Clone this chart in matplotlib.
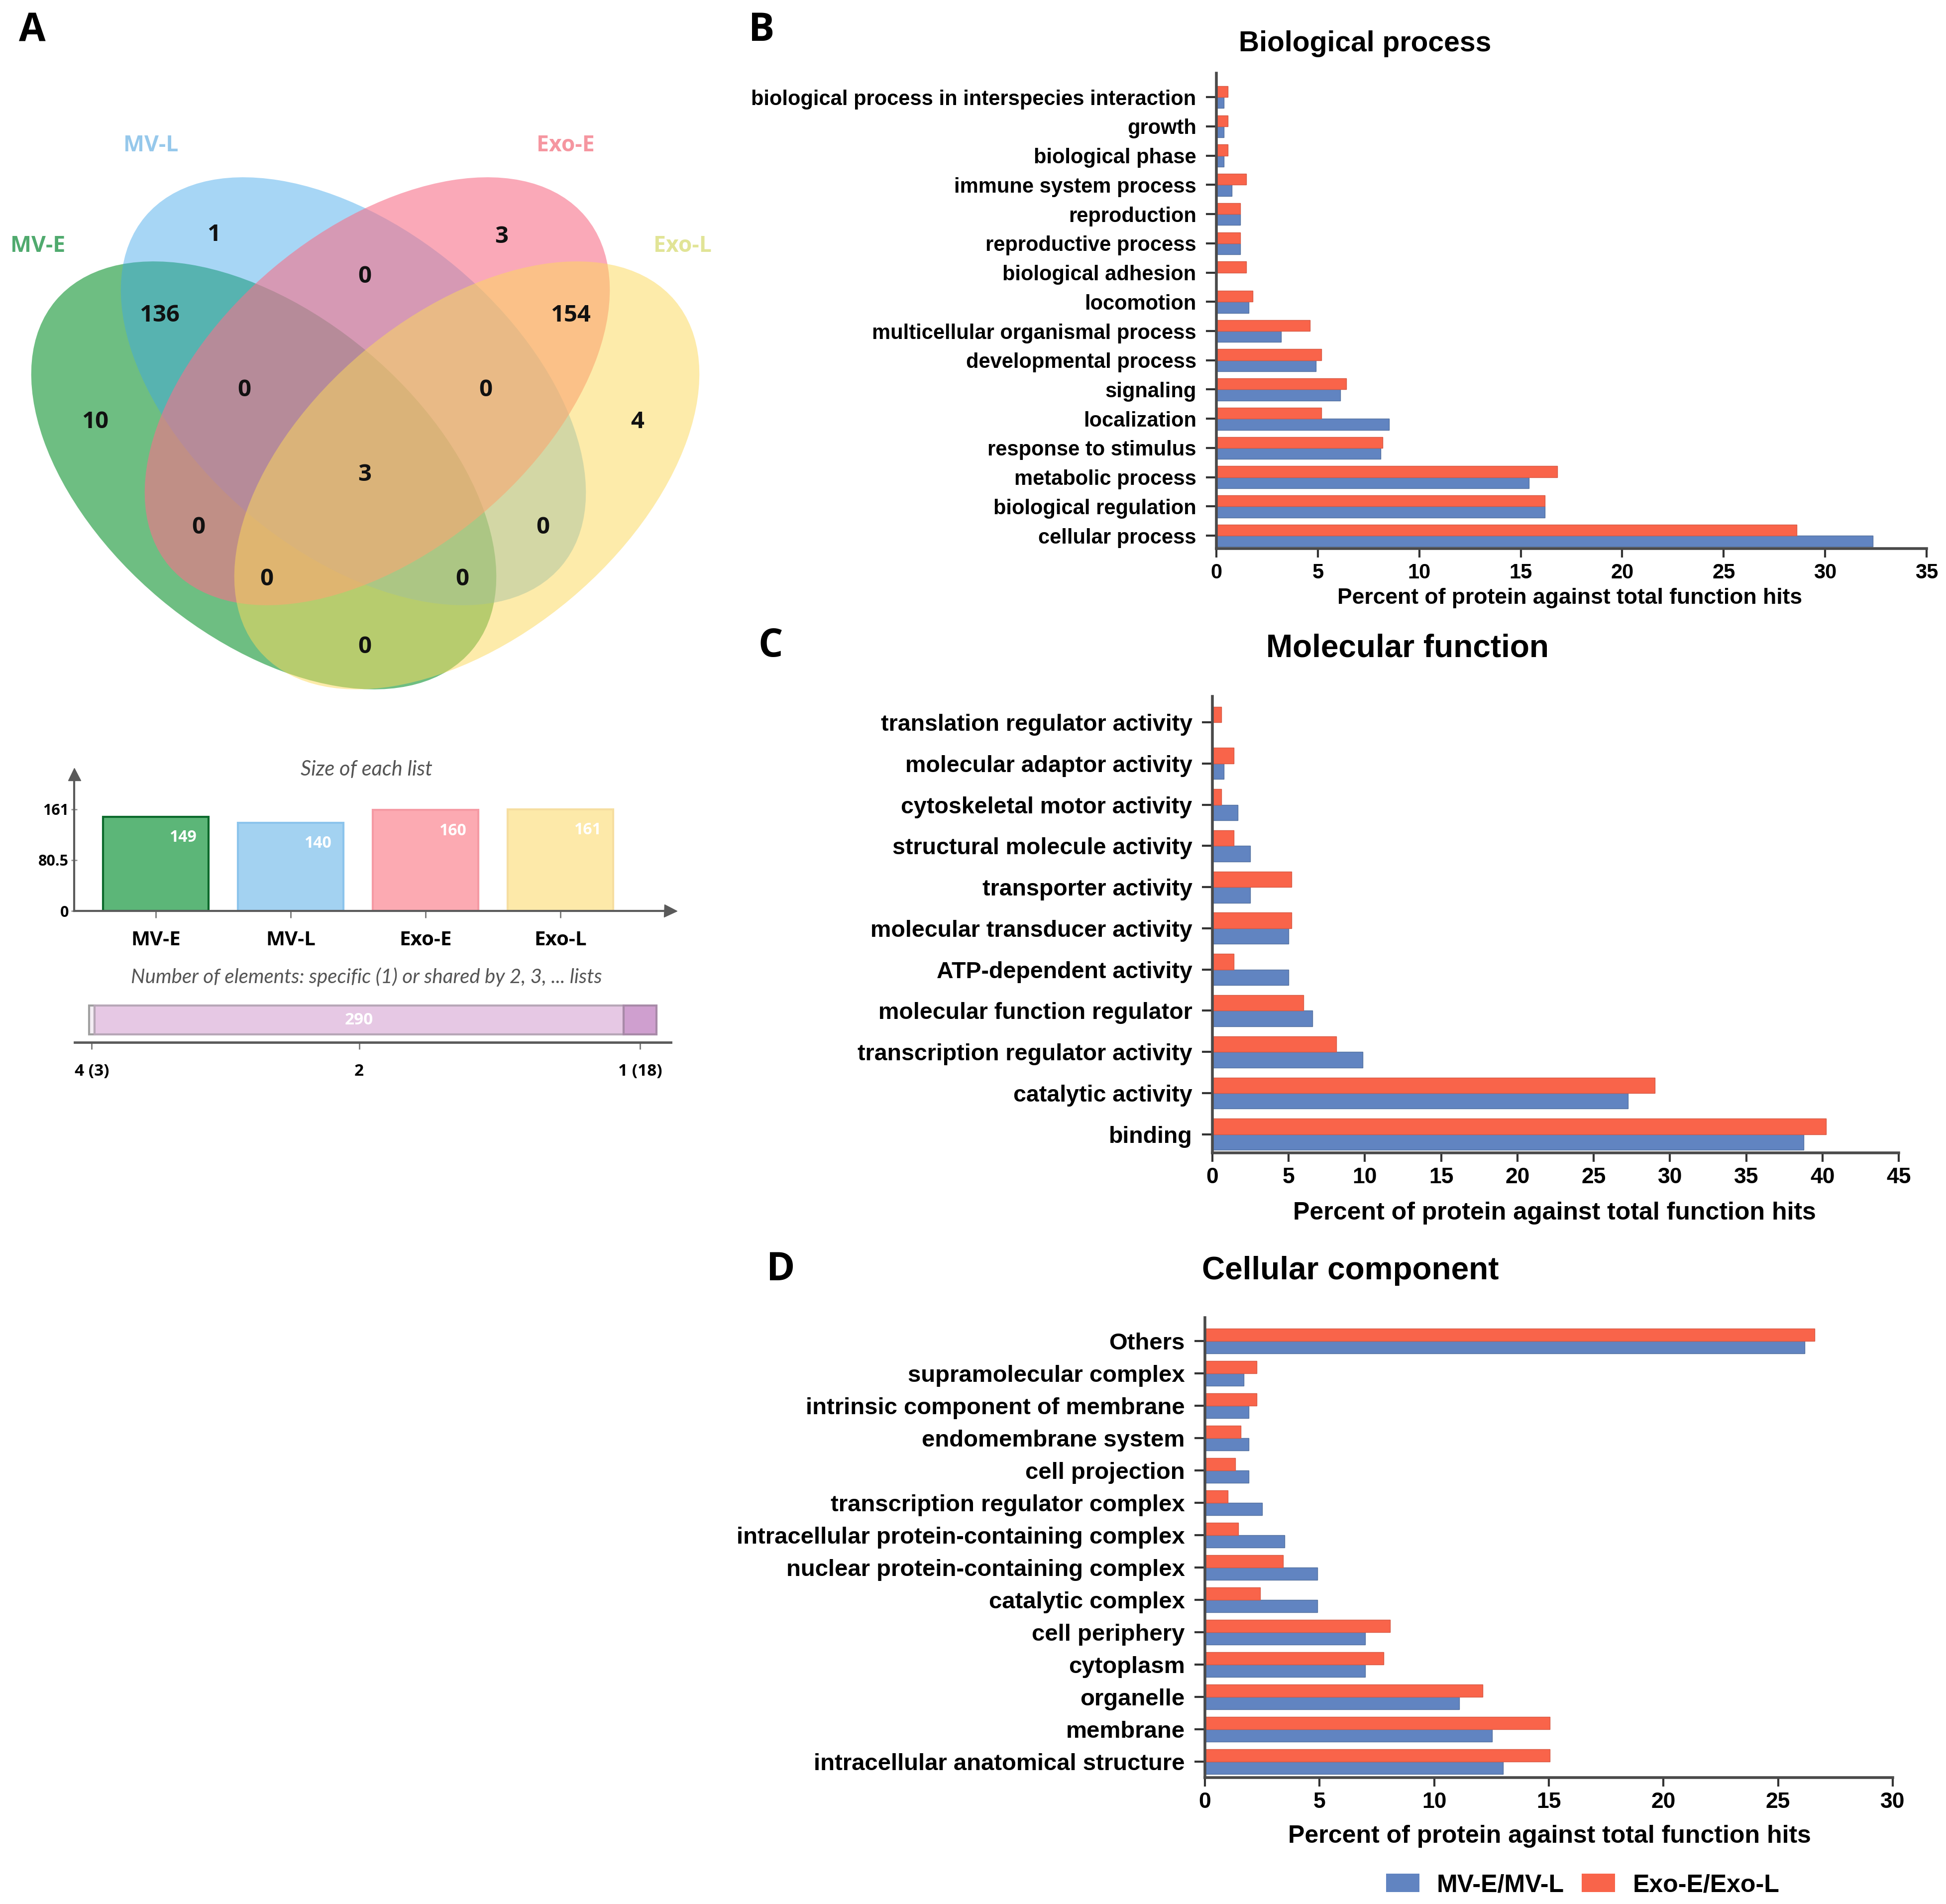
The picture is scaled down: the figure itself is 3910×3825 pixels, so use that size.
import matplotlib
matplotlib.use("Agg")
import matplotlib.pyplot as plt
from matplotlib.patches import Ellipse, Patch
import numpy as np

W, H = 3910, 3825
DPI = 100

# ---------------- panel A data ----------------
set_names = ["MV-E", "MV-L", "Exo-E", "Exo-L"]
# regions: A=MV-E, B=MV-L, C=Exo-E, D=Exo-L
region_keys = ["A", "B", "C", "D", "AB", "BC", "CD", "ABC", "BCD",
               "ABCD", "AC", "BD", "ACD", "ABD", "AD"]
region_counts = [10, 1, 3, 4, 136, 0, 154, 0, 0, 3, 0, 0, 0, 0, 0]
list_sizes = [149, 140, 160, 161]
size_ticks = [0, 80.5, 161]
shared_by = [4, 2, 1]
shared_counts = [3, 290, 18]

# ---------------- panels B-D data (top to bottom) ----------------
bp_labels = ["biological process in interspecies interaction", "growth",
             "biological phase", "immune system process", "reproduction",
             "reproductive process", "biological adhesion", "locomotion",
             "multicellular organismal process", "developmental process",
             "signaling", "localization", "response to stimulus",
             "metabolic process", "biological regulation", "cellular process"]
bp_mv = [0.38, 0.38, 0.38, 0.76, 1.18, 1.18, 0, 1.6, 3.2, 4.9,
         6.1, 8.5, 8.1, 15.4, 16.2, 32.35]
bp_exo = [0.57, 0.57, 0.57, 1.48, 1.18, 1.18, 1.48, 1.8, 4.6, 5.17,
          6.4, 5.17, 8.2, 16.8, 16.2, 28.6]

mf_labels = ["translation regulator activity", "molecular adaptor activity",
             "cytoskeletal motor activity", "structural molecule activity",
             "transporter activity", "molecular transducer activity",
             "ATP-dependent activity", "molecular function regulator",
             "transcription regulator activity", "catalytic activity", "binding"]
mf_mv = [0, 0.76, 1.67, 2.48, 2.48, 5.0, 5.0, 6.57, 9.86, 27.25, 38.78]
mf_exo = [0.6, 1.4, 0.6, 1.4, 5.2, 5.2, 1.4, 5.97, 8.14, 29.0, 40.24]

cc_labels = ["Others", "supramolecular complex", "intrinsic component of membrane",
             "endomembrane system", "cell projection",
             "transcription regulator complex",
             "intracellular protein-containing complex",
             "nuclear protein-containing complex", "catalytic complex",
             "cell periphery", "cytoplasm", "organelle", "membrane",
             "intracellular anatomical structure"]
cc_mv = [26.15, 1.7, 1.9, 1.9, 1.9, 2.49, 3.47, 4.9, 4.9, 6.98, 6.98,
         11.1, 12.53, 13.0]
cc_exo = [26.6, 2.25, 2.25, 1.57, 1.33, 0.99, 1.46, 3.4, 2.42, 8.07, 7.8,
          12.12, 15.05, 15.05]

series_names = ["MV-E/MV-L", "Exo-E/Exo-L"]

BLUE = "#6184c1"
RED = "#f9644a"
SANS = ["Open Sans", "Liberation Sans", "DejaVu Sans"]
LATO = ["Lato", "DejaVu Sans"]
ARIAL = ["Liberation Sans", "DejaVu Sans"]

fig = plt.figure(figsize=(W / DPI, H / DPI), dpi=DPI)


def px_axes(x0, y0, x1, y1):
    return fig.add_axes([x0 / W, 1 - y1 / H, (x1 - x0) / W, (y1 - y0) / H])


def fig_text(x, y, s, **kw):
    fig.text(x / W, 1 - y / H, s, ha=kw.pop("ha", "center"),
             va=kw.pop("va", "center"), **kw)


# ---------------- Venn ----------------
av = px_axes(0, 250, 1470, 1420)
av.set_xlim(0, 1470)
av.set_ylim(1420, 250)
av.axis("off")

fills = ["#0d932f", "#3ca6ea", "#f7718a", "#fcd95c"]
alphas = [0.6, 0.45, 0.6, 0.52]
name_colors = ["#50aa6e", "#96c8eb", "#f596a0", "#e1e496"]
centers = [(530, 955), (710, 786), (758, 786), (938, 955)]
angles = [40, 40, -40, -40]
name_pos = [(76, 494), (303, 292), (1136, 292), (1371, 494)]
for i in range(4):
    av.add_patch(Ellipse(centers[i], 1092, 648, angle=angles[i],
                         facecolor=fills[i], alpha=alphas[i], edgecolor="none"))
    av.text(*name_pos[i], set_names[i], color=name_colors[i], fontsize=32,
            fontweight="bold", family=SANS, ha="center", va="center")

venn_pos = {"A": (191, 847), "B": (430, 471), "C": (1008, 475), "D": (1281, 847),
            "AB": (321, 633), "BC": (733, 556), "CD": (1147, 633),
            "ABC": (491, 784), "BCD": (976, 783), "ABCD": (733, 954),
            "AC": (399, 1060), "BD": (1091, 1060), "ACD": (536, 1164),
            "ABD": (929, 1164), "AD": (733, 1300)}
for k, n in zip(region_keys, region_counts):
    av.text(*venn_pos[k], str(n), fontsize=34, fontweight="bold", family=SANS,
            ha="center", va="center", color="#111111")

# ---------------- size of each list ----------------
GRAY = "#5a5a5a"
asz = px_axes(149, 1555, 1347, 1830)
xs = np.arange(len(list_sizes))
bar_fill = ["#5cb678", "#a3d2f1", "#fcaab2", "#fde9a9"]
bar_edge = ["#0b6a2c", "#8cc4ec", "#f59aa4", "#f6dea0"]
asz.bar(xs, list_sizes, width=0.78, color=bar_fill, edgecolor=bar_edge, linewidth=3)
for x, v in zip(xs, list_sizes):
    asz.text(x + 0.2, v - 33, str(v), color="white", fontsize=23,
             fontweight="bold", family=SANS, ha="center", va="center")
asz.set_xlim(-0.605, 3.815)
asz.set_ylim(0, 217)
asz.set_xticks(xs)
asz.set_xticklabels(set_names, fontsize=29, fontweight="bold", family=SANS)
asz.set_yticks(size_ticks)
asz.set_yticklabels(["0", "80.5", "161"], fontsize=22, fontweight="bold", family=SANS)
asz.tick_params(axis="x", length=10, width=2, color="#777777", pad=18)
asz.tick_params(axis="y", length=8, width=2, color="#999999", direction="inout", pad=4)
for s in ["top", "right"]:
    asz.spines[s].set_visible(False)
for s in ["left", "bottom"]:
    asz.spines[s].set_color(GRAY)
    asz.spines[s].set_linewidth(3)
asz.plot([1], [0], marker=">", color=GRAY, markersize=18, transform=asz.transAxes,
         clip_on=False)
asz.plot([0], [1], marker="^", color=GRAY, markersize=18, transform=asz.transAxes,
         clip_on=False)
asz.patch.set_alpha(0)
fig_text(736, 1546, "Size of each list", fontsize=30, style="italic",
         color="#555555", family=LATO)

# ---------------- shared counts ----------------
ash = px_axes(150, 2010, 1348, 2094)
seg_fill = ["#f4eef4", "#e6c8e4", "#cf9fcf"]
seg_edge = ["#a0a0a0", "#b7a7b7", "#a88aa8"]
lefts = np.concatenate([[0], np.cumsum(shared_counts)[:-1]])
ash.barh(0.535, shared_counts, left=lefts, height=0.69, color=seg_fill,
         edgecolor=seg_edge, linewidth=3)
tick_labels = []
for k, n, l in zip(shared_by, shared_counts, lefts):
    if n > 50:
        ash.text(l + n / 2, 0.535, str(n), color="white", fontsize=24,
                 fontweight="bold", family=SANS, ha="center", va="center")
        tick_labels.append(str(k))
    else:
        tick_labels.append(f"{k} ({n})")
ash.set_xlim(-7.9, 318.9)
ash.set_ylim(0, 1)
ash.set_xticks(lefts + np.array(shared_counts) / 2)
ash.set_xticklabels(tick_labels, fontsize=24, fontweight="bold", family=SANS)
ash.set_yticks([])
ash.tick_params(axis="x", length=10, width=2, color="#777777", pad=20)
for s in ["top", "right", "left"]:
    ash.spines[s].set_visible(False)
ash.spines["bottom"].set_color(GRAY)
ash.spines["bottom"].set_linewidth(3.5)
ash.patch.set_alpha(0)
fig_text(736, 1963, "Number of elements: specific (1) or shared by 2, 3, ... lists",
         fontsize=29, style="italic", color="#555555", family=LATO)


# ---------------- GO bar panels ----------------
def go_panel(box, labels, mv, exo, xmax, ylims, lab_size, tick_size):
    ax = px_axes(*box)
    n = len(labels)
    y = np.arange(n)[::-1]
    h = 0.38
    ax.barh(y - h / 2, mv, height=h, color=BLUE, edgecolor="#55729f", linewidth=1)
    ax.barh(y + h / 2, exo, height=h, color=RED, edgecolor="#d65a45", linewidth=1)
    ax.set_yticks(y)
    ax.set_yticklabels(labels, fontsize=lab_size, fontweight="bold", family=ARIAL)
    ax.set_xlim(0, xmax)
    ax.set_xticks(np.arange(0, xmax + 1, 5))
    ax.set_xticklabels([str(t) for t in range(0, xmax + 1, 5)], fontsize=tick_size,
                       fontweight="bold", family=ARIAL)
    ax.set_ylim(*ylims)
    for s in ["top", "right"]:
        ax.spines[s].set_visible(False)
    for s in ["left", "bottom"]:
        ax.spines[s].set_color("#4a4a4a")
        ax.spines[s].set_linewidth(4)
    ax.tick_params(axis="y", length=15, width=3, color="#333333", pad=14)
    ax.tick_params(axis="x", length=13, width=3, color="#333333", pad=8)
    ax.patch.set_alpha(0)
    return ax


go_panel((2444, 147, 3871, 1102), bp_labels, bp_mv, bp_exo, 35, (-0.44, 15.82), 30, 30)
go_panel((2436, 1399, 3815, 2316), mf_labels, mf_mv, mf_exo, 45, (-0.45, 10.63), 33.5, 32)
go_panel((2421, 2647, 3803, 3571), cc_labels, cc_mv, cc_exo, 30, (-0.49, 13.72), 34, 32)

fig_text(2743, 88, "Biological process", fontsize=41, fontweight="bold", family=ARIAL)
fig_text(2828, 1302, "Molecular function", fontsize=46, fontweight="bold", family=ARIAL)
fig_text(2713, 2553, "Cellular component", fontsize=46, fontweight="bold", family=ARIAL)

xlab = "Percent of protein against total function hits"
fig_text(3154, 1202, xlab, fontsize=32, fontweight="bold", family=ARIAL)
fig_text(3123, 2437, xlab, fontsize=36, fontweight="bold", family=ARIAL)
fig_text(3113, 3689, xlab, fontsize=36, fontweight="bold", family=ARIAL)

for letter, (x, y) in zip("ABCD", [(65, 62), (1530, 62), (1548, 1298), (1569, 2551)]):
    fig_text(x, y, letter, fontsize=56, fontweight="bold", family=SANS)

handles = [Patch(facecolor=BLUE, edgecolor="none"), Patch(facecolor=RED, edgecolor="none")]
fig.legend(handles, series_names, loc="center", bbox_to_anchor=(3180 / W, 1 - 3787 / H),
           ncol=2, frameon=False, prop={"family": ARIAL, "weight": "bold", "size": 36},
           handlelength=1.34, handleheight=0.74, handletextpad=0.7, columnspacing=0.7)

fig.savefig("out.png", dpi=DPI, facecolor="white")
